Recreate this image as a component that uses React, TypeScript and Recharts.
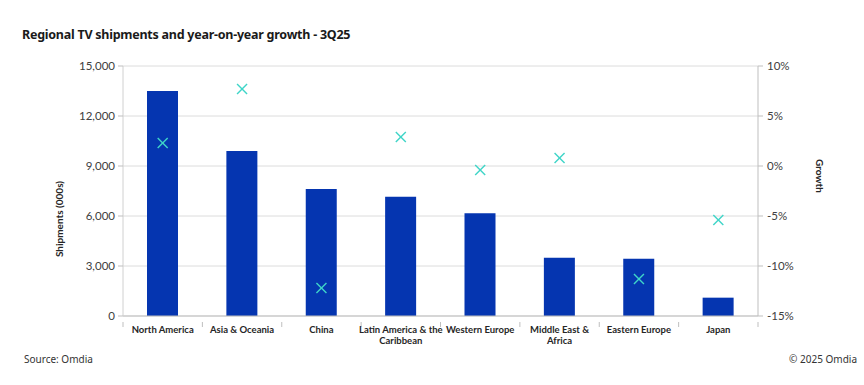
import React from "react";
import {
  ComposedChart,
  Bar,
  Scatter,
  XAxis,
  YAxis,
  CartesianGrid,
} from "recharts";

const categories = [
  "North America",
  "Asia & Oceania",
  "China",
  "Latin America & the Caribbean",
  "Western Europe",
  "Middle East & Africa",
  "Eastern Europe",
  "Japan",
];
const shipments = [13500, 9900, 7620, 7160, 6160, 3500, 3440, 1100];
const growth = [2.3, 7.7, -12.2, 2.9, -0.4, 0.8, -11.3, -5.4];
const tickLabels: string[][] = [
  ["North America"],
  ["Asia & Oceania"],
  ["China"],
  ["Latin America & the", "Caribbean"],
  ["Western Europe"],
  ["Middle East &", "Africa"],
  ["Eastern Europe"],
  ["Japan"],
];
const leftTicks = [0, 3000, 6000, 9000, 12000, 15000];
const rightTicks = [-15, -10, -5, 0, 5, 10];

const data = categories.map((c, i) => ({
  category: c,
  shipments: shipments[i],
  growth: growth[i],
}));

const BAR_COLOR = "#0535B0";
const MARK_COLOR = "#3FD5C8";
const TEXT = "#262626";
const FONT = "Lato, 'Liberation Sans', sans-serif";

const XMark = (props: any) => {
  const { cx, cy } = props;
  if (cx == null || cy == null) return null;
  const s = 5;
  return (
    <g stroke={MARK_COLOR} strokeWidth={1.4}>
      <line x1={cx - s} y1={cy - s} x2={cx + s} y2={cy + s} />
      <line x1={cx - s} y1={cy + s} x2={cx + s} y2={cy - s} />
    </g>
  );
};

const CategoryTick = (props: any) => {
  const { x, y, payload, width, visibleTicksCount, index } = props;
  const lines = tickLabels[payload.index] || [payload.value];
  const band = width && visibleTicksCount ? width / visibleTicksCount : 0;
  const axisY = y - 2;
  return (
    <g>
      {band > 0 && (
        <line
          x1={x - band / 2}
          x2={x - band / 2}
          y1={axisY}
          y2={axisY + 5}
          stroke="#bfbfbf"
        />
      )}
      {band > 0 && index === visibleTicksCount - 1 && (
        <line
          x1={x + band / 2}
          x2={x + band / 2}
          y1={axisY}
          y2={axisY + 5}
          stroke="#bfbfbf"
        />
      )}
      <text
        x={x}
        y={y + 2}
        textAnchor="middle"
        fill={TEXT}
        fontSize={9.5}
        fontWeight={700}
        fontFamily={FONT}
      >
        {lines.map((l, i) => (
          <tspan key={i} x={x} dy={i === 0 ? "0.71em" : 11}>
            {l}
          </tspan>
        ))}
      </text>
    </g>
  );
};

export default function App() {
  return (
    <div
      style={{
        position: "absolute",
        left: 0,
        top: 0,
        width: 864,
        height: 385,
        background: "#fff",
        fontFamily: FONT,
      }}
    >
      <div
        style={{
          position: "absolute",
          left: 22,
          top: 26,
          fontSize: 12.5,
          fontWeight: 700,
          color: "#1a1a1a",
          fontFamily: "'Noto Sans', sans-serif",
          whiteSpace: "nowrap",
          letterSpacing: -0.25,
        }}
      >
        Regional TV shipments and year-on-year growth - 3Q25
      </div>
      <ComposedChart
        width={864}
        height={385}
        data={data}
        margin={{ top: 66, right: 0, bottom: 39, left: 0 }}
      >
        <CartesianGrid vertical={false} stroke="#dcdcdc" yAxisId="left" />
        <XAxis
          dataKey="category"
          height={30}
          tick={<CategoryTick />}
          tickLine={false}
          axisLine={{ stroke: "#bfbfbf" }}
          interval={0}
        />
        <YAxis
          yAxisId="left"
          width={123}
          domain={[0, 15000]}
          ticks={leftTicks}
          tickFormatter={(v: number) => v.toLocaleString("en-US")}
          tick={{ fill: "#404040", fontSize: 11.5, fontFamily: FONT }}
          tickLine={{ stroke: "#bfbfbf" }}
          tickSize={5}
          tickMargin={3}
          axisLine={{ stroke: "#d0d0d0" }}
          label={{
            content: () => (
              <text
                x={59}
                y={219}
                transform="rotate(-90 59 219)"
                textAnchor="middle"
                dominantBaseline="central"
                fontSize={10}
                fontWeight={700}
                fill={TEXT}
                fontFamily={FONT}
              >
                Shipments (000s)
              </text>
            ),
          }}
        />
        <YAxis
          yAxisId="right"
          orientation="right"
          width={106}
          domain={[-15, 10]}
          ticks={rightTicks}
          tickFormatter={(v: number) => `${v}%`}
          tick={{ fill: "#404040", fontSize: 11.5, fontFamily: FONT, textAnchor: "start" }}
          tickLine={{ stroke: "#bfbfbf" }}
          tickSize={5}
          tickMargin={4}
          axisLine={{ stroke: "#bfbfbf" }}
          label={{
            content: () => (
              <text
                x={820}
                y={176}
                transform="rotate(90 820 176)"
                textAnchor="middle"
                dominantBaseline="central"
                fontSize={10}
                fontWeight={700}
                fill={TEXT}
                fontFamily={FONT}
              >
                Growth
              </text>
            ),
          }}
        />
        <Bar
          yAxisId="left"
          dataKey="shipments"
          fill={BAR_COLOR}
          barSize={31}
          isAnimationActive={false}
        />
        <Scatter
          yAxisId="right"
          dataKey="growth"
          shape={<XMark />}
          isAnimationActive={false}
        />
      </ComposedChart>
      <div
        style={{
          position: "absolute",
          left: 24,
          top: 352,
          fontSize: 10,
          color: "#333",
          fontFamily: "'Noto Sans', sans-serif",
        }}
      >
        Source: Omdia
      </div>
      <div
        style={{
          position: "absolute",
          right: 7,
          top: 352,
          fontSize: 10,
          color: "#333",
          fontFamily: "'Noto Sans', sans-serif",
        }}
      >
        © 2025 Omdia
      </div>
    </div>
  );
}
